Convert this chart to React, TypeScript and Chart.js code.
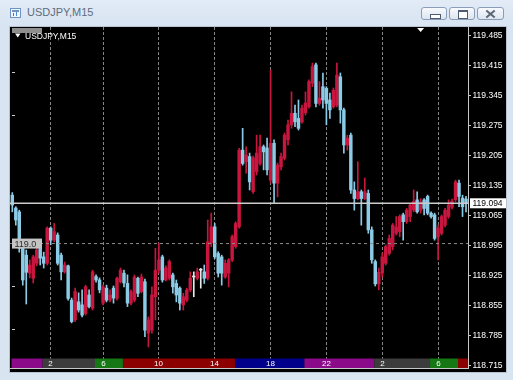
import React, { useEffect, useRef } from 'react';
import { Chart, registerables } from 'chart.js';

Chart.register(...registerables);

// ---- candle data (USDJPY M15), bar index 0..130 ----
const opens = [
  119.113, 119.083, 119.074, 118.993, 118.973, 118.931, 118.919, 118.954, 118.989, 118.969,
  118.954, 119.036, 119.008, 119.020, 118.973, 118.934, 118.948, 118.868, 118.822, 118.864,
  118.857, 118.837, 118.880, 118.849, 118.923, 118.915, 118.861, 118.896, 118.868, 118.896,
  118.872, 118.911, 118.931, 118.907, 118.861, 118.868, 118.919, 118.888, 118.911, 118.791,
  118.798, 118.876, 118.938, 118.969, 118.915, 118.919, 118.927, 118.907, 118.896, 118.857,
  118.868, 118.892, 118.922, 118.919, 118.938, 118.934, 118.919, 119.001, 119.039, 118.977,
  118.969, 118.922, 118.931, 118.962, 118.993, 119.039, 119.218, 119.191, 119.203, 119.121,
  119.168, 119.187, 119.226, 119.223, 119.148, 119.234, 119.141, 119.179, 119.199, 119.242,
  119.277, 119.304, 119.292, 119.284, 119.305, 119.319, 119.374, 119.417, 119.327, 119.366,
  119.362, 119.335, 119.319, 119.323, 119.389, 119.312, 119.230, 119.253, 119.125, 119.105,
  119.121, 119.105, 119.117, 119.032, 118.958, 118.906, 118.931, 118.954, 118.977, 118.993,
  119.024, 119.028, 119.067, 119.051, 119.063, 119.078, 119.102, 119.078, 119.102, 119.110,
  119.071, 119.067, 119.016, 119.024, 119.043, 119.063, 119.085, 119.102, 119.141, 119.106,
  119.104,
];
const highs = [
  119.119, 119.086, 119.078, 119.001, 118.985, 118.962, 118.973, 118.992, 118.997, 118.980,
  119.039, 119.039, 119.047, 119.025, 118.978, 118.957, 118.950, 118.873, 118.896, 118.885,
  118.892, 118.903, 118.892, 118.938, 118.927, 118.920, 118.903, 118.903, 118.892, 118.901,
  118.922, 118.943, 118.938, 118.927, 118.892, 118.927, 118.922, 118.929, 118.917, 118.829,
  118.899, 118.989, 119.001, 118.973, 118.948, 118.962, 118.931, 118.915, 118.899, 118.884,
  118.896, 118.934, 118.934, 118.943, 118.942, 118.950, 119.055, 119.071, 119.047, 118.981,
  118.973, 118.962, 118.965, 119.020, 119.051, 119.222, 119.269, 119.226, 119.211, 119.204,
  119.253, 119.253, 119.230, 119.246, 119.405, 119.242, 119.188, 119.211, 119.258, 119.288,
  119.354, 119.323, 119.335, 119.323, 119.354, 119.382, 119.421, 119.421, 119.378, 119.398,
  119.366, 119.351, 119.363, 119.421, 119.398, 119.316, 119.253, 119.258, 119.144, 119.191,
  119.125, 119.153, 119.125, 119.039, 118.962, 118.943, 118.978, 118.997, 119.020, 119.047,
  119.063, 119.067, 119.071, 119.082, 119.094, 119.125, 119.121, 119.105, 119.105, 119.113,
  119.074, 119.071, 119.043, 119.067, 119.082, 119.102, 119.104, 119.148, 119.148, 119.113,
  119.110,
];
const lows = [
  119.074, 119.043, 118.980, 118.903, 118.859, 118.920, 118.908, 118.948, 118.950, 118.943,
  118.950, 118.997, 119.004, 118.950, 118.915, 118.931, 118.868, 118.815, 118.818, 118.840,
  118.829, 118.833, 118.850, 118.845, 118.910, 118.885, 118.857, 118.864, 118.864, 118.861,
  118.868, 118.908, 118.899, 118.853, 118.857, 118.864, 118.876, 118.885, 118.783, 118.759,
  118.791, 118.822, 118.931, 118.910, 118.913, 118.915, 118.884, 118.864, 118.845, 118.845,
  118.864, 118.888, 118.876, 118.915, 118.896, 118.907, 118.915, 118.993, 118.965, 118.922,
  118.903, 118.919, 118.899, 118.958, 118.989, 119.036, 119.183, 119.164, 119.125, 119.117,
  119.160, 119.183, 119.172, 119.160, 119.141, 119.095, 119.109, 119.172, 119.195, 119.230,
  119.269, 119.273, 119.265, 119.281, 119.300, 119.316, 119.366, 119.319, 119.323, 119.316,
  119.277, 119.292, 119.316, 119.319, 119.281, 119.211, 119.218, 119.117, 119.078, 119.102,
  119.043, 119.102, 119.024, 118.954, 118.901, 118.892, 118.922, 118.950, 118.973, 118.985,
  119.020, 119.016, 119.008, 119.047, 119.051, 119.074, 119.071, 119.071, 119.067, 119.067,
  119.059, 119.008, 118.962, 119.020, 119.039, 119.059, 119.081, 119.098, 119.086, 119.063,
  119.074,
];
const closes = [
  119.090, 119.055, 118.989, 118.915, 118.933, 118.950, 118.969, 118.985, 118.966, 118.954,
  119.036, 119.008, 119.028, 118.954, 118.934, 118.950, 118.872, 118.818, 118.888, 118.845,
  118.833, 118.899, 118.853, 118.934, 118.915, 118.892, 118.899, 118.868, 118.880, 118.873,
  118.919, 118.938, 118.908, 118.861, 118.888, 118.922, 118.884, 118.922, 118.798, 118.822,
  118.880, 118.938, 118.962, 118.915, 118.943, 118.958, 118.899, 118.880, 118.861, 118.876,
  118.892, 118.919, 118.922, 118.934, 118.938, 118.919, 119.004, 119.039, 118.969, 118.931,
  118.931, 118.954, 118.962, 119.016, 119.047, 119.218, 119.187, 119.207, 119.144, 119.200,
  119.211, 119.226, 119.214, 119.172, 119.234, 119.141, 119.183, 119.203, 119.253, 119.277,
  119.304, 119.284, 119.269, 119.316, 119.328, 119.378, 119.413, 119.327, 119.339, 119.335,
  119.327, 119.312, 119.358, 119.393, 119.312, 119.230, 119.246, 119.125, 119.105, 119.121,
  119.105, 119.121, 119.032, 118.962, 118.906, 118.933, 118.969, 118.993, 119.012, 119.043,
  119.039, 119.063, 119.051, 119.078, 119.090, 119.098, 119.074, 119.098, 119.082, 119.071,
  119.063, 119.012, 119.036, 119.063, 119.078, 119.090, 119.099, 119.144, 119.110, 119.086,
  119.094,
];

// ---- axes / annotations ----
const priceTicks = [119.485, 119.415, 119.345, 119.275, 119.205, 119.135, 119.065, 118.995, 118.925, 118.855, 118.785, 118.715];
const yMin = 118.7097;
const yMax = 119.5053;
const xMin = -0.659;
const xMax = 130.57;
const hourBars = [11, 26, 42, 58, 74, 90, 106, 122];
const hourLabels = ['2', '6', '10', '14', '18', '22', '2', '6'];
const sessionFrom = [-0.66, 8.7, 23.7, 31.7, 63.8, 83.7, 103.7, 119.7, 127.7];
const sessionTo = [8.7, 23.7, 31.7, 63.8, 83.7, 103.7, 119.7, 127.7, 130.57];
const sessionColors = ['#8a0a8a', '#3c3c3c', '#157815', '#8b0000', '#00008b', '#8a0a8a', '#3c3c3c', '#157815', '#8b0000'];
const bidPrice = 119.094;
const levelPrice = 119.0;
const leftMarks = [119.4, 119.3, 118.9, 118.8];
const shiftBar = 117;
const symbolTitle = 'USDJPY,M15';

const UP = '#c8163f';
const DOWN = '#8ccbe6';
const DOJI = '#e8e8e8';
const candleColors = closes.map((c, i) => (c > opens[i] ? UP : c < opens[i] ? DOWN : DOJI));

const FONT = '"Liberation Sans", Arial, sans-serif';

const decor = {
  id: 'mtDecor',
  beforeDatasetsDraw(chart: any) {
    const { ctx, chartArea: a, scales } = chart;
    const x = scales.x;
    const y = scales.y;
    ctx.save();
    ctx.strokeStyle = '#858585';
    ctx.lineWidth = 1;
    ctx.setLineDash([3, 2]);
    hourBars.forEach((v) => {
      const px = Math.floor(x.getPixelForValue(v)) + 0.5;
      ctx.beginPath();
      ctx.moveTo(px, a.top);
      ctx.lineTo(px, a.bottom);
      ctx.stroke();
    });
    ctx.setLineDash([]);
    ctx.strokeStyle = '#c8c8c8';
    leftMarks.forEach((p) => {
      const py = Math.round(y.getPixelForValue(p)) + 0.5;
      ctx.beginPath();
      ctx.moveTo(a.left + 2, py);
      ctx.lineTo(a.left + 5, py);
      ctx.stroke();
    });
    ctx.restore();
  },
  afterDraw(chart: any) {
    const { ctx, chartArea: a, scales } = chart;
    const x = scales.x;
    const y = scales.y;
    ctx.save();
    // session band
    const bTop = a.bottom - 9.5;
    sessionFrom.forEach((s, k) => {
      const x0 = Math.max(a.left + 1.5, x.getPixelForValue(s));
      const x1 = Math.min(a.right, x.getPixelForValue(sessionTo[k]));
      ctx.fillStyle = sessionColors[k];
      ctx.fillRect(x0, bTop, x1 - x0, a.bottom - bTop);
    });
    ctx.fillStyle = '#ffffff';
    ctx.font = '8px ' + FONT;
    ctx.textAlign = 'center';
    ctx.textBaseline = 'middle';
    hourBars.forEach((v, k) => {
      ctx.fillText(hourLabels[k], Math.floor(x.getPixelForValue(v)) + 0.5, bTop + 5);
    });
    // bottom border
    ctx.fillStyle = '#c8c8c8';
    ctx.fillRect(a.left, a.bottom, a.right - a.left + 1, 1);

    // top-left symbol label
    ctx.fillStyle = '#8e8e8e';
    ctx.fillRect(a.left + 2, a.top + 1, 30, 5);
    ctx.fillStyle = '#ffffff';
    ctx.beginPath();
    ctx.moveTo(a.left + 5, a.top + 6.5);
    ctx.lineTo(a.left + 10.5, a.top + 6.5);
    ctx.lineTo(a.left + 7.75, a.top + 10.5);
    ctx.closePath();
    ctx.fill();
    ctx.font = '8.5px ' + FONT;
    ctx.textAlign = 'left';
    ctx.textBaseline = 'alphabetic';
    ctx.fillText(symbolTitle, a.left + 15, a.top + 11.5);

    // shift marker
    const sx = x.getPixelForValue(shiftBar);
    ctx.beginPath();
    ctx.moveTo(sx - 3.5, a.top + 1);
    ctx.lineTo(sx + 3.5, a.top + 1);
    ctx.lineTo(sx, a.top + 5);
    ctx.closePath();
    ctx.fill();

    // level label at left
    const ly = y.getPixelForValue(levelPrice);
    ctx.fillStyle = '#c4c4c4';
    ctx.fillRect(a.left + 2, ly - 5, 30, 10);
    ctx.fillStyle = '#2a2a2a';
    ctx.font = '9px ' + FONT;
    ctx.textBaseline = 'middle';
    ctx.fillText(levelPrice.toFixed(1), a.left + 4.5, ly + 0.5);

    // bid box on axis
    const by = y.getPixelForValue(bidPrice);
    ctx.fillStyle = '#ffffff';
    ctx.fillRect(a.right + 2, by - 5, 36, 10);
    ctx.fillStyle = '#000000';
    ctx.font = '8.5px ' + FONT;
    ctx.fillText(bidPrice.toFixed(3), a.right + 4.5, by + 0.5);
    ctx.restore();
  },
};

export default function App() {
  const ref = useRef<HTMLCanvasElement>(null);
  useEffect(() => {
    document.body.style.margin = '0';
    const canvas = ref.current!;
    const chart = new Chart(canvas, {
      type: 'bar',
      data: {
        datasets: [
          {
            type: 'line',
            label: 'bid',
            data: [{ x: xMin, y: bidPrice }, { x: xMax, y: bidPrice }],
            borderColor: '#cccccc',
            borderWidth: 1.5,
            pointRadius: 0,
            order: 0,
          } as any,
          {
            type: 'line',
            label: 'level',
            data: [{ x: xMin, y: levelPrice }, { x: xMax, y: levelPrice }],
            borderColor: '#8c8c8c',
            borderWidth: 1,
            borderDash: [3, 3],
            pointRadius: 0,
            order: 0,
          } as any,
          {
            type: 'bar',
            label: 'body',
            data: opens.map((o, i) => ({ x: i, y: [o, closes[i]] })),
            backgroundColor: candleColors,
            barThickness: 2.8,
            minBarLength: 1,
            grouped: false,
            order: 1,
          } as any,
          {
            type: 'bar',
            label: 'wick',
            data: lows.map((l, i) => ({ x: i, y: [l, highs[i]] })),
            backgroundColor: candleColors,
            barThickness: 1,
            grouped: false,
            order: 2,
          } as any,
        ],
      },
      options: {
        animation: false,
        responsive: false,
        events: [],
        layout: { padding: { top: 0, left: 0, right: 0, bottom: 4 } },
        plugins: { legend: { display: false }, tooltip: { enabled: false } },
        scales: {
          x: { type: 'linear', display: false, min: xMin, max: xMax, offset: false },
          y: {
            type: 'linear',
            position: 'right',
            min: yMin,
            max: yMax,
            afterBuildTicks: (s: any) => {
              s.ticks = priceTicks.map((v) => ({ value: v }));
            },
            afterFit: (s: any) => {
              s.width = 38;
              s.paddingTop = 0;
              s.paddingBottom = 0;
            },
            grid: { drawOnChartArea: false, drawTicks: true, tickLength: 3, color: '#c8c8c8' },
            border: { display: true, color: '#c8c8c8', width: 1 },
            ticks: {
              color: '#ffffff',
              font: { family: FONT, size: 8.5 },
              padding: 1.5,
              autoSkip: false,
              callback: (v: any) => Number(v).toFixed(3),
            },
          },
        },
      } as any,
      plugins: [decor],
    });
    return () => chart.destroy();
  }, []);

  const btn: React.CSSProperties = {
    position: 'absolute',
    top: 7,
    height: 13,
    border: '1px solid #8b9db6',
    borderRadius: 3,
    background: 'linear-gradient(#f8fafd, #dce5f0)',
    boxSizing: 'border-box',
  };

  return (
    <div
      style={{
        position: 'relative',
        width: 513,
        height: 380,
        overflow: 'hidden',
        background: 'linear-gradient(#e2ebf6 0px, #d8e4f2 26px, #d9e4f1 380px)',
        fontFamily: FONT,
      }}
    >
      {/* window icon */}
      <div
        style={{
          position: 'absolute',
          left: 10,
          top: 8,
          width: 11,
          height: 10,
          border: '1px solid #6f93c4',
          background: '#f2f7fd',
          boxSizing: 'border-box',
        }}
      >
        <div style={{ position: 'absolute', left: 1, top: 1, width: 7, height: 2, background: '#6f93c4' }} />
        <div style={{ position: 'absolute', left: 2, top: 4, width: 1, height: 3, background: '#d04060' }} />
        <div style={{ position: 'absolute', left: 5, top: 3, width: 1, height: 4, background: '#4a8ad0' }} />
      </div>
      <div style={{ position: 'absolute', left: 27, top: 6, fontSize: 11, color: '#5d6c7e', lineHeight: '13px' }}>
        {symbolTitle}
      </div>
      {/* caption buttons */}
      <div style={{ ...btn, left: 421, width: 26 }}>
        <div
          style={{
            position: 'absolute',
            left: 8,
            top: 6,
            width: 9,
            height: 3,
            border: '1px solid #4d5c70',
            background: '#ffffff',
          }}
        />
      </div>
      <div style={{ ...btn, left: 449, width: 26 }}>
        <div
          style={{
            position: 'absolute',
            left: 8,
            top: 2,
            width: 8,
            height: 6,
            border: '1px solid #4d5c70',
            borderTop: '2px solid #4d5c70',
            background: '#ffffff',
          }}
        />
      </div>
      <div style={{ ...btn, left: 477, width: 27 }}>
        <div
          style={{
            position: 'absolute',
            left: 7,
            top: 4.5,
            width: 11,
            height: 2,
            background: '#5a6878',
            transform: 'rotate(40deg)',
          }}
        />
        <div
          style={{
            position: 'absolute',
            left: 7,
            top: 4.5,
            width: 11,
            height: 2,
            background: '#5a6878',
            transform: 'rotate(-40deg)',
          }}
        />
      </div>
      {/* chart frame */}
      <div
        style={{
          position: 'absolute',
          left: 9,
          top: 26,
          width: 498,
          height: 347,
          background: '#b7c3d1',
        }}
      >
        <canvas
          ref={ref}
          width={496}
          height={345}
          style={{ position: 'absolute', left: 1, top: 1, width: 496, height: 345, background: '#000000' }}
        />
      </div>
    </div>
  );
}
